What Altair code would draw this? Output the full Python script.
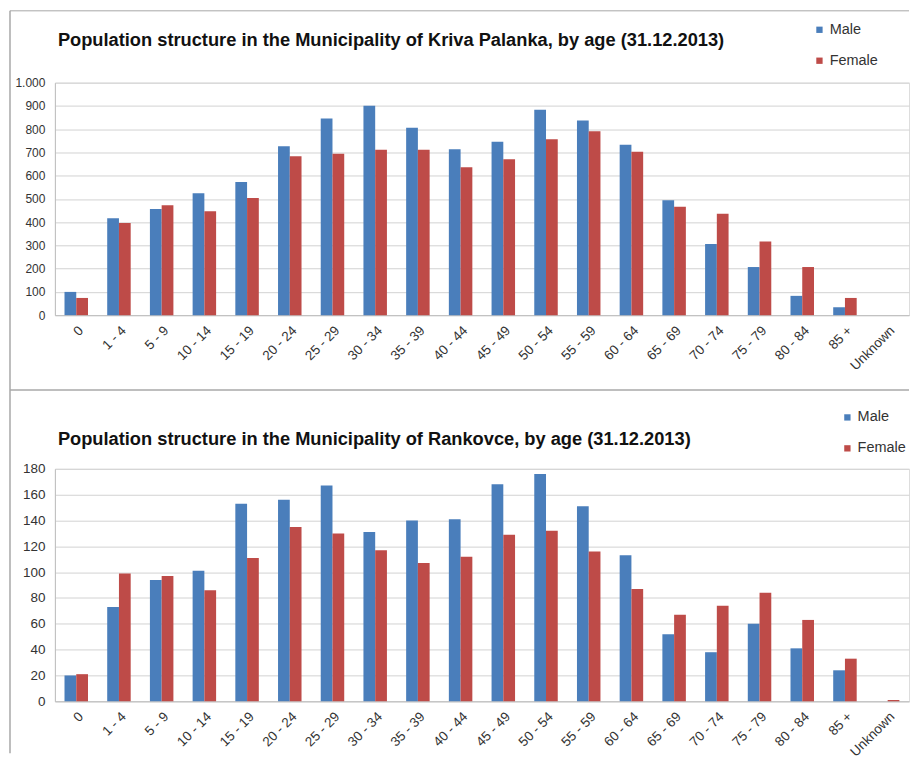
import altair as alt
import pandas as pd

ages = ["0", "1 - 4", "5 - 9", "10 - 14", "15 - 19", "20 - 24", "25 - 29", "30 - 34",
        "35 - 39", "40 - 44", "45 - 49", "50 - 54", "55 - 59", "60 - 64", "65 - 69",
        "70 - 74", "75 - 79", "80 - 84", "85 +", "Unknown"]

kp_male = [100, 417, 457, 524, 573, 726, 846, 901, 806, 714, 746, 883, 837, 733, 494, 306, 207, 83, 34, 0]
kp_female = [74, 396, 473, 447, 504, 683, 694, 711, 711, 636, 671, 757, 791, 703, 466, 436, 317, 207, 74, 0]
rk_male = [20, 73, 94, 101, 153, 156, 167, 131, 140, 141, 168, 176, 151, 113, 52, 38, 60, 41, 24, 0]
rk_female = [21, 99, 97, 86, 111, 135, 130, 117, 107, 112, 129, 132, 116, 87, 67, 74, 84, 63, 33, 1]

sexes = ["Male", "Female"]
colors = ["#4a7ebb", "#be4b48"]

title_kp = "Population structure in the Municipality of Kriva Palanka, by age (31.12.2013)"
title_rk = "Population structure in the Municipality of Rankovce, by age (31.12.2013)"

FONT = "Liberation Sans"
W, H = 856, 233
BORDER = "#a8a8a8"
LABEL = "#333333"


def frame(male, female):
    rows = []
    for a, m, f in zip(ages, male, female):
        rows.append({"Age": a, "Sex": "Male", "Value": m})
        rows.append({"Age": a, "Sex": "Female", "Value": f})
    return pd.DataFrame(rows)


def bars_for(male, female, ymax, ystep, legend_x, legend_y, ylabel_size, label_expr=None):
    yaxis_kw = dict(values=list(range(0, ymax + 1, ystep)), title=None, grid=True,
                    gridColor="#d2d2d2", domain=True, domainColor="#bfbfbf", ticks=False,
                    labelPadding=10, labelFont=FONT, labelFontSize=ylabel_size,
                    labelColor=LABEL)
    if label_expr:
        yaxis_kw["labelExpr"] = label_expr
    return alt.Chart(frame(male, female)).mark_bar().encode(
        x=alt.X("Age:N", sort=ages,
                scale=alt.Scale(paddingInner=0.45, paddingOuter=0.225),
                axis=alt.Axis(title=None, labelAngle=-45, ticks=False, domainColor="#bfbfbf",
                              labelFont=FONT, labelFontSize=13.5, labelColor=LABEL,
                              labelPadding=8)),
        xOffset=alt.XOffset("Sex:N", sort=sexes),
        y=alt.Y("Value:Q", scale=alt.Scale(domain=[0, ymax], nice=False),
                axis=alt.Axis(**yaxis_kw)),
        color=alt.Color("Sex:N", sort=sexes,
                        scale=alt.Scale(domain=sexes, range=colors),
                        legend=alt.Legend(orient="none", legendX=legend_x, legendY=legend_y,
                                          title=None, symbolType="square", symbolSize=40,
                                          symbolStrokeWidth=0, labelFont=FONT,
                                          labelFontSize=14.5, labelColor=LABEL,
                                          rowPadding=16, padding=0, labelOffset=3)),
    )


one = pd.DataFrame({"k": [0]})

kp_bars = bars_for(kp_male, kp_female, 1000, 100, 759, -60.25, 12,
                   "datum.value >= 1000 ? replace(format(datum.value, ','), ',', '.') : datum.label")
rk_bars = bars_for(rk_male, rk_female, 180, 20, 787, -58.75, 13.5)

left_border = alt.Chart(one).mark_rule(color=BORDER, strokeWidth=1.5).encode(
    x=alt.value(-45), y=alt.value(-72), y2=alt.value(672))
top_border = alt.Chart(one).mark_rule(color=BORDER, strokeWidth=1).encode(
    x=alt.value(-45), x2=alt.value(W), y=alt.value(-72))
divider = alt.Chart(one).mark_rule(color=BORDER, strokeWidth=1.5).encode(
    x=alt.value(-45), x2=alt.value(W), y=alt.value(-79))

top = alt.layer(kp_bars, left_border, top_border).properties(
    width=W, height=H,
    title=alt.Title(title_kp, anchor="start", frame="group", dx=3, offset=-54.7,
                    baseline="alphabetic", font=FONT, fontSize=18.3, fontWeight="bold",
                    color="#111111"))
bottom = alt.layer(rk_bars, divider).properties(
    width=W, height=H,
    title=alt.Title(title_rk, anchor="start", frame="group", dx=3, offset=-74,
                    baseline="alphabetic", font=FONT, fontSize=18.3, fontWeight="bold",
                    color="#111111"))

chart = alt.vconcat(top, bottom, spacing=154, bounds="flush").resolve_scale(
    x="independent", y="independent", color="independent"
).resolve_legend(color="independent").properties(
    padding={"left": 0, "top": 0, "right": 0, "bottom": 0}
).configure_view(stroke="transparent").configure(background="white")

chart.save("out.html", embed_options={"renderer": "svg", "actions": False})
